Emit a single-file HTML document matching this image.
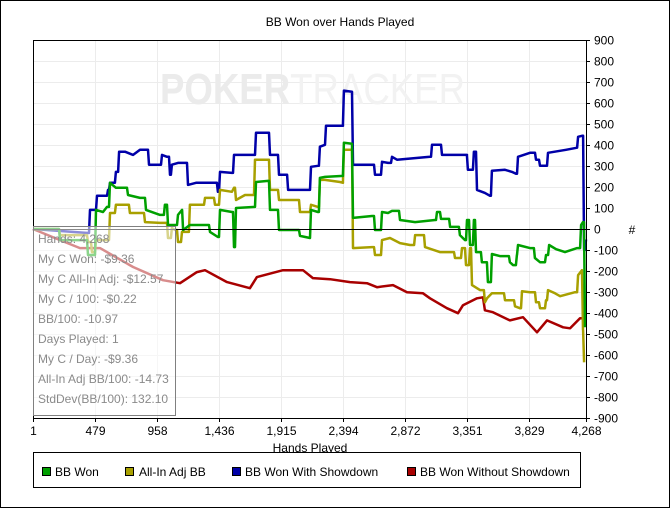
<!DOCTYPE html>
<html><head><meta charset="utf-8"><style>
body{margin:0;background:#fff;}
svg text{font-family:"Liberation Sans",sans-serif;}
</style></head><body>
<svg id="c" width="670" height="508" xmlns="http://www.w3.org/2000/svg">
<rect x="0.5" y="0.5" width="669" height="507" fill="#fff" stroke="#000"/>
<text x="340" y="26" font-size="12" text-anchor="middle">BB Won over Hands Played</text>
<g id="grid"></g>
<text x="160" y="104" font-size="44" font-weight="bold" fill="#ebebeb" textLength="305" lengthAdjust="spacingAndGlyphs">POKER<tspan font-weight="normal" fill="#f2f2f2">TRACKER</tspan></text>
<g id="series"></g>
<g id="axes"></g>
<text x="310" y="452" font-size="12" text-anchor="middle">Hands Played</text>
<text x="632" y="234" font-size="12" text-anchor="middle">#</text>
<g>
<rect x="33.5" y="226.5" width="142" height="189" fill="rgba(255,255,255,0.55)" stroke="#808080"/>
<g font-size="12" fill="#8a8a8a">
<text x="38" y="243">Hands: 4,268</text>
<text x="38" y="263">My C Won: -$9.36</text>
<text x="38" y="283">My C All-In Adj: -$12.57</text>
<text x="38" y="303">My C / 100: -$0.22</text>
<text x="38" y="323">BB/100: -10.97</text>
<text x="38" y="343">Days Played: 1</text>
<text x="38" y="363">My C / Day: -$9.36</text>
<text x="38" y="383">All-In Adj BB/100: -14.73</text>
<text x="38" y="403">StdDev(BB/100): 132.10</text>
</g></g>
<g>
<rect x="33.5" y="452.5" width="547" height="35" fill="#fff" stroke="#000"/>
<g font-size="12">
<rect x="42.5" y="467.5" width="8" height="8" fill="#00a000" stroke="#000"/>
<text x="55" y="476">BB Won</text>
<rect x="125.5" y="467.5" width="8" height="8" fill="#a8a000" stroke="#000"/>
<text x="139" y="476">All-In Adj BB</text>
<rect x="232.5" y="467.5" width="8" height="8" fill="#0000a8" stroke="#000"/>
<text x="245" y="476">BB Won With Showdown</text>
<rect x="407.5" y="467.5" width="8" height="8" fill="#a80000" stroke="#000"/>
<text x="420" y="476">BB Won Without Showdown</text>
</g></g>
</svg>
<script>
const xTicks=[1,479,958,1436,1915,2394,2872,3351,3829,4268];
const xTickLabels=["1","479","958","1,436","1,915","2,394","2,872","3,351","3,829","4,268"];
const yTicks=[900,800,700,600,500,400,300,200,100,0,-100,-200,-300,-400,-500,-600,-700,-800,-900];
const greenHands=[1,209,425,456,487,541,572,595,641,734,827,873,981,1019,1043,1120,1151,1159,1212,1367,1428,1444,1536,1552,1567,1714,1722,1814,1830,1884,1899,2061,2138,2146,2200,2215,2254,2393,2400,2462,2470,2617,2640,2678,2694,2740,2771,2833,2949,3103,3118,3149,3219,3295,3334,3350,3373,3403,3419,3465,3511,3527,3542,3604,3681,3705,3735,3743,3836,3874,3913,3959,3983,4037,4106,4199,4230,4245,4260];
const greenVals=[0,-53,-124,-124,91,81,105,220,196,162,148,91,67,115,19,67,91,-5,19,-14,-38,91,81,-86,100,105,224,229,91,91,-5,-33,-43,91,81,244,248,253,411,406,53,62,-5,-5,81,76,86,43,33,43,81,48,10,-29,-53,43,-76,43,-110,-158,-253,-253,-119,-129,-158,-172,-124,-76,-91,-138,-158,-124,-76,-96,-110,-91,19,33,-468];
const yellowHands=[1,209,425,456,487,595,641,749,865,981,1043,1073,1097,1120,1151,1212,1328,1405,1444,1536,1552,1567,1637,1714,1814,1830,1884,1899,2061,2146,2200,2215,2254,2370,2393,2400,2462,2470,2617,2640,2678,2694,2756,2833,2910,2949,3026,3141,3257,3311,3342,3373,3388,3450,3488,3504,3542,3643,3720,3758,3774,3836,3882,3913,3959,3975,4029,4068,4183,4207,4237,4245,4253];
const yellowVals=[0,-29,-62,-110,-53,76,115,76,33,29,-43,5,-5,-62,-14,115,148,115,186,177,196,138,162,330,330,186,186,138,81,115,105,234,234,224,220,377,377,-91,-86,-124,-124,-53,-43,-67,-76,-29,-86,-110,-138,-91,-172,-91,-267,-291,-349,-330,-306,-339,-368,-377,-296,-301,-349,-377,-339,-291,-306,-320,-301,-220,-196,-482,-635];
const blueHands=[1,425,441,495,580,595,641,665,711,773,827,888,896,981,996,1035,1058,1073,1120,1189,1197,1259,1405,1428,1444,1536,1552,1714,1722,1814,1830,1884,1899,1969,2138,2146,2200,2215,2254,2262,2393,2400,2462,2470,2617,2640,2678,2694,2740,2771,2810,3064,3080,3141,3157,3350,3357,3388,3403,3419,3427,3488,3527,3542,3643,3697,3728,3743,3836,3882,3913,3967,3975,4114,4199,4207,4237,4253,4268];
const blueVals=[0,-19,91,158,186,220,272,368,368,353,377,377,306,306,353,344,258,306,315,315,210,220,220,177,272,267,353,353,458,458,353,353,258,186,186,296,301,392,401,492,492,659,654,306,306,258,258,320,315,344,330,344,401,401,353,353,282,282,368,368,186,172,158,277,282,272,263,344,363,330,301,301,363,377,387,439,444,-100,-50];
const redHands=[1,209,364,518,773,1004,1135,1266,1328,1498,1675,1729,1930,2084,2161,2293,2447,2578,2655,2779,2887,3010,3064,3195,3280,3319,3427,3473,3488,3550,3681,3782,3890,3967,4091,4145,4222,4253];
const redVals=[0,-53,-91,-91,-181,-244,-258,-205,-196,-253,-282,-229,-196,-196,-234,-239,-253,-258,-277,-267,-301,-306,-330,-377,-401,-363,-330,-325,-387,-396,-435,-420,-492,-435,-468,-473,-425,-425];
const L=33,R=586,T=40,B=418;
const xs=h=>L+(h-1)/(4268-1)*(R-L);
const ys=v=>T+(900-v)/1800*(B-T);
const NS="http://www.w3.org/2000/svg";
const grid=document.getElementById('grid'),axes=document.getElementById('axes'),ser=document.getElementById('series');
function mk(tag,attrs,parent){const e=document.createElementNS(NS,tag);for(const k in attrs)e.setAttribute(k,attrs[k]);parent.appendChild(e);return e;}
xTicks.forEach((t,i)=>{const x=Math.round(xs(t))+0.5;
 const g=mk('line',{x1:x,x2:x,y1:T,y2:B,stroke:'#ececec'},grid);
 
 
 const tk=mk('line',{x1:x,x2:x,y1:B,y2:B+4,stroke:'#000'},axes);
 
 
 const tx=mk('text',{x:x,y:B+17,'font-size':12,'text-anchor':'middle'},axes);tx.textContent=xTickLabels[i];
 
 
});
yTicks.forEach(t=>{const y=Math.round(ys(t))+0.5;
 const g=mk('line',{x1:L,x2:R,y1:y,y2:y,stroke:t===0?'#000':'#ececec'},t===0?axes:grid);
 
 
 const tk=mk('line',{x1:R,x2:R+4,y1:y,y2:y,stroke:'#000'},axes);
 
 
 const tx=mk('text',{x:R+8,y:y+4,'font-size':12},axes);tx.textContent=t;
 
 
});
const fr=mk('rect',{x:L+0.5,y:T+0.5,width:R-L,height:B-T,fill:'none',stroke:'#000'},axes);


function line(h,v,color,name,step){let d='';
 h.forEach((x,i)=>{const X=xs(x).toFixed(1),Y=ys(v[i]).toFixed(1);
  if(i===0)d+='M'+X+' '+Y;
  else if(step&&Math.abs(v[i]-v[i-1])>25)d+=' L'+(xs(x)-1).toFixed(1)+' '+ys(v[i-1]).toFixed(1)+' L'+X+' '+Y;
  else d+=' L'+X+' '+Y;});
 const p=mk('path',{d:d,fill:'none',stroke:color,'stroke-width':2.5,'stroke-linejoin':'round'},ser);
 
 }
line(redHands,redVals,'#a80000','line-bb-won-without-showdown',false);
line(blueHands,blueVals,'#0000a8','line-bb-won-with-showdown',true);
line(yellowHands,yellowVals,'#a8a000','line-all-in-adj-bb',true);
line(greenHands,greenVals,'#00a000','line-bb-won',true);
</script>
</body></html>
